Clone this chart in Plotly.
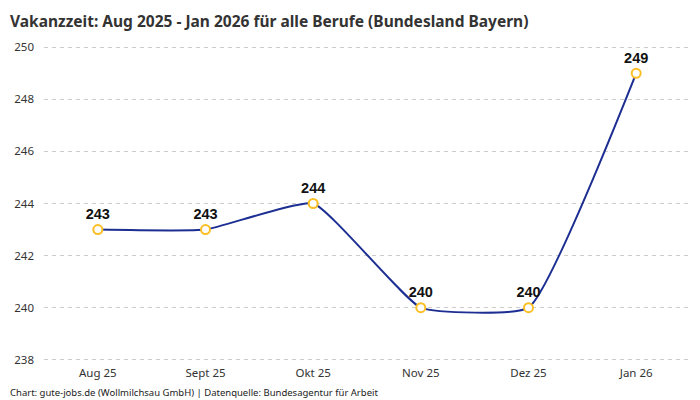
import plotly.graph_objects as go

# Vakanzzeit in Tagen, Bayern
monate = ["Aug 25", "Sept 25", "Okt 25", "Nov 25", "Dez 25", "Jan 26"]
vakanzzeit = [243, 243, 244, 240, 240, 249]
y_ticks = [238, 240, 242, 244, 246, 248, 250]

titel = "Vakanzzeit: Aug 2025 - Jan 2026 für alle Berufe (Bundesland Bayern)"
quelle = "Chart: gute-jobs.de (Wollmilchsau GmbH) | Datenquelle: Bundesagentur für Arbeit"

# the page puts the figure 8px in from the top-left, margins account for that
fig = go.Figure()
fig.add_trace(go.Scatter(
    x=monate,
    y=vakanzzeit,
    mode="lines+markers+text",
    line=dict(color="#1c2e92", width=2, shape="spline", smoothing=0.4),
    marker=dict(size=9, color="white", line=dict(color="#fbbf24", width=2)),
    text=[str(v) for v in vakanzzeit],
    textposition="top center",
    textfont=dict(family="Liberation Sans, Arial", size=14.5, color="#111111", weight="bold"),
    cliponaxis=False,
    hoverinfo="x+y",
))

fig.update_layout(
    width=700,
    height=400,
    margin=dict(l=36, r=18, t=38, b=47, autoexpand=False),
    paper_bgcolor="white",
    plot_bgcolor="white",
    showlegend=False,
    annotations=[
        dict(
            text="<b>" + titel + "</b>",
            xref="paper", yref="paper",
            x=-0.056, y=1.12,
            xanchor="left", yanchor="top",
            showarrow=False,
            font=dict(family="Noto Sans, Open Sans", size=15.5, color="#333333"),
        ),
        dict(
            text=quelle,
            xref="paper", yref="paper",
            x=-0.056, y=-0.1,
            xanchor="left", yanchor="middle",
            showarrow=False,
            font=dict(family="Noto Sans, Open Sans", size=9.5, color="#222222"),
        ),
    ],
)

fig.update_xaxes(
    type="category",
    range=[-0.5, 5.5],
    showgrid=False,
    showline=False,
    zeroline=False,
    ticks="",
    ticklabelstandoff=3,
    tickfont=dict(family="Noto Sans, Open Sans", size=11.5, color="#333333"),
)
fig.update_yaxes(
    range=[237.95, 250.05],
    tickvals=y_ticks,
    showgrid=True,
    gridcolor="#cccccc",
    griddash="4px,4px",
    gridwidth=1,
    zeroline=False,
    showline=False,
    ticks="",
    ticklabelstandoff=9,
    tickfont=dict(family="Noto Sans, Open Sans", size=11.5, color="#333333"),
)

fig.write_html("out.html")
